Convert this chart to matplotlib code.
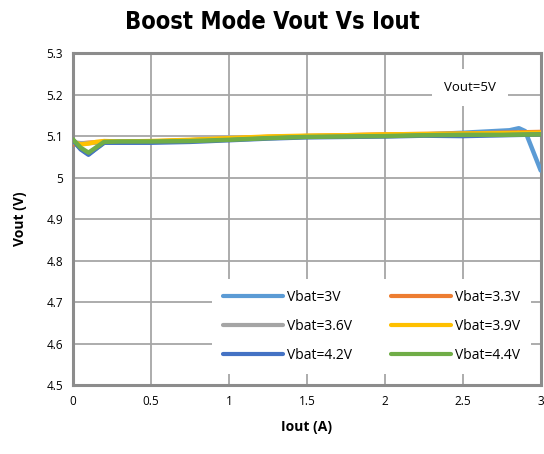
import matplotlib
matplotlib.use("Agg")
import matplotlib.pyplot as plt
from matplotlib import font_manager

# ---- data ----
x_common = [0.0, 0.05, 0.1, 0.15, 0.2, 0.3, 0.5, 0.75, 1.0, 1.25, 1.5, 1.75, 2.0, 2.25, 2.5, 2.75, 3.0]
v30_x = [0.0, 0.05, 0.1, 0.15, 0.2, 0.3, 0.5, 0.75, 1.0, 1.25, 1.5, 1.75, 2.0, 2.25, 2.5, 2.7, 2.8, 2.86, 2.9, 3.0]
v30_y = [5.088, 5.070, 5.057, 5.070, 5.084, 5.085, 5.086, 5.090, 5.093, 5.097, 5.100, 5.100, 5.101, 5.104, 5.108, 5.112, 5.114, 5.119, 5.112, 5.017]
v33_y = [5.080, 5.082, 5.084, 5.085, 5.086, 5.086, 5.087, 5.090, 5.094, 5.098, 5.100, 5.102, 5.104, 5.105, 5.106, 5.108, 5.110]
v36_y = [5.085, 5.083, 5.083, 5.084, 5.085, 5.085, 5.086, 5.089, 5.093, 5.097, 5.099, 5.100, 5.101, 5.103, 5.104, 5.106, 5.107]
v39_y = [5.086, 5.080, 5.082, 5.086, 5.088, 5.087, 5.088, 5.091, 5.095, 5.099, 5.101, 5.102, 5.104, 5.105, 5.106, 5.107, 5.108]
v42_y = [5.090, 5.068, 5.055, 5.070, 5.084, 5.084, 5.084, 5.086, 5.090, 5.094, 5.097, 5.098, 5.099, 5.101, 5.100, 5.102, 5.104]
v44_y = [5.092, 5.072, 5.060, 5.073, 5.086, 5.087, 5.087, 5.088, 5.091, 5.095, 5.098, 5.099, 5.100, 5.102, 5.103, 5.103, 5.104]
labels = ["Vbat=3V", "Vbat=3.3V", "Vbat=3.6V", "Vbat=3.9V", "Vbat=4.2V", "Vbat=4.4V"]
colors = ["#5b9bd5", "#ed7d31", "#a5a5a5", "#ffc000", "#4472c4", "#70ad47"]
xticks = [0, 0.5, 1, 1.5, 2, 2.5, 3]
xticklabels = ["0", "0.5", "1", "1.5", "2", "2.5", "3"]
yticks = [4.5, 4.6, 4.7, 4.8, 4.9, 5.0, 5.1, 5.2, 5.3]
yticklabels = ["4.5", "4.6", "4.7", "4.8", "4.9", "5", "5.1", "5.2", "5.3"]

names = {f.name for f in font_manager.fontManager.ttflist}
body = "Open Sans" if "Open Sans" in names else "DejaVu Sans"
plt.rcParams['font.family'] = [body, 'DejaVu Sans']

fig = plt.figure(figsize=(5.44, 4.54), dpi=100)
ax = fig.add_axes([0.134, 0.152, 0.860, 0.731])

series_x = [v30_x, x_common, x_common, x_common, x_common, x_common]
series_y = [v30_y, v33_y, v36_y, v39_y, v42_y, v44_y]
order = [1, 2, 3, 0, 4, 5]
lines = [None] * 6
for i in order:
    l, = ax.plot(series_x[i], series_y[i], color=colors[i], lw=3.2, label=labels[i],
                 solid_capstyle='round', solid_joinstyle='round', zorder=3 + i)
    lines[i] = l

ax.set_xlim(0, 3)
ax.set_ylim(4.5, 5.3)
ax.set_xticks(xticks)
ax.set_xticklabels(xticklabels, fontsize=8.5)
ax.set_yticks(yticks)
ax.set_yticklabels(yticklabels, fontsize=8.5)
ax.tick_params(length=0, pad=7)
ax.grid(True, color="#a6a6a6", lw=1.3)
ax.set_axisbelow(True)
for s in ax.spines.values():
    s.set_color("#8c8c8c")
    s.set_linewidth(2.2)

ax.set_xlabel("Iout (A)", fontsize=10, fontweight='bold', labelpad=9)
ax.set_ylabel("Vout (V)", fontsize=10, fontweight='bold', labelpad=14)

fig.text(0.5, 0.952, "Boost Mode Vout Vs Iout", ha='center', va='center',
         fontsize=17, fontweight='bold', fontstretch='condensed',
         family=['DejaVu Sans'])

ax.text(2.545, 5.218, "Vout=5V", ha='center', va='center', fontsize=9.5,
        bbox=dict(facecolor='white', edgecolor='none', boxstyle='square,pad=0.9'), zorder=10)

leg_order = [0, 2, 4, 1, 3, 5]
leg = ax.legend(handles=[lines[i] for i in leg_order], labels=[labels[i] for i in leg_order],
                ncol=2, loc='lower right',
                bbox_to_anchor=(0.994, 0.012), fontsize=10, frameon=True,
                fancybox=False, edgecolor='none', framealpha=1.0,
                handlelength=4.3, columnspacing=2.8, handletextpad=0.3,
                labelspacing=1.0, borderpad=0.8)
for h in leg.get_lines():
    h.set_linewidth(3)
leg.set_zorder(12)

fig.savefig("out.png", dpi=100)
